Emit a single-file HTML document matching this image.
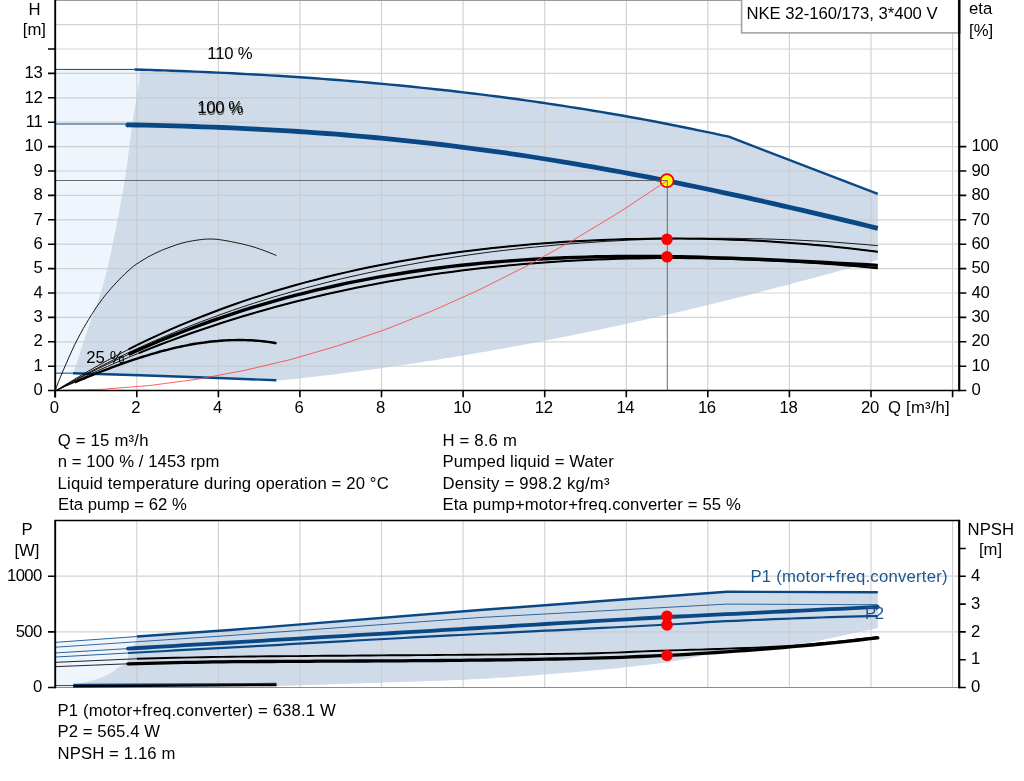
<!DOCTYPE html>
<html><head><meta charset="utf-8"><title>NKE 32-160/173</title>
<style>html,body{margin:0;padding:0;background:#fff;width:1024px;height:781px;overflow:hidden}</style>
</head><body>
<svg width="1024" height="781" viewBox="0 0 1024 781" style="position:absolute;left:0;top:0">
<rect width="1024" height="781" fill="#fff"/>
<polygon points="55.2,69.5 140.5,69.5 140.5,70.0 139.8,75.1 139.2,80.3 138.4,85.4 137.7,90.5 136.8,95.7 136.0,100.8 135.1,105.9 134.2,111.1 133.4,116.2 132.6,121.4 131.9,126.5 131.2,131.6 130.5,136.8 129.9,141.9 129.2,147.0 128.6,152.2 127.9,157.3 127.3,162.4 126.6,167.6 125.8,172.7 125.1,177.8 124.2,183.0 123.4,188.1 122.5,193.3 121.6,198.4 120.6,203.5 119.6,208.7 118.7,213.8 117.7,218.9 116.7,224.1 115.7,229.2 114.6,234.3 113.6,239.5 112.5,244.6 111.5,249.7 110.4,254.9 109.3,260.0 108.2,265.2 106.9,270.3 105.6,275.4 104.3,280.6 102.8,285.7 101.3,290.8 99.7,296.0 97.9,301.1 96.1,306.2 94.2,311.4 92.2,316.5 90.4,321.6 88.6,326.8 86.9,331.9 85.2,337.1 83.4,342.2 81.7,347.3 80.1,352.5 78.5,357.6 76.8,362.7 75.0,367.9 73.0,373.0 73.0,373.2 55.2,373.2" fill="#eef5fd"/>
<polygon points="134.5,69.5 142.0,69.7 149.5,69.9 157.1,70.2 164.6,70.4 172.1,70.7 179.6,71.0 187.2,71.3 194.7,71.6 202.2,71.9 209.7,72.2 217.2,72.6 224.8,72.9 232.3,73.3 239.8,73.7 247.3,74.1 254.9,74.5 262.4,74.9 269.9,75.4 277.4,75.8 284.9,76.3 292.5,76.8 300.0,77.3 307.5,77.8 315.0,78.3 322.6,78.9 330.1,79.5 337.6,80.0 345.1,80.6 352.6,81.3 360.2,81.9 367.7,82.5 375.2,83.2 382.7,83.9 390.3,84.6 397.8,85.3 405.3,86.0 412.8,86.8 420.3,87.6 427.9,88.4 435.4,89.2 442.9,90.0 450.4,90.8 458.0,91.7 465.5,92.6 473.0,93.5 480.5,94.4 488.0,95.4 495.6,96.3 503.1,97.3 510.6,98.3 518.1,99.3 525.7,100.4 533.2,101.4 540.7,102.5 548.2,103.6 555.7,104.7 563.3,105.9 570.8,107.1 578.3,108.2 585.8,109.4 593.4,110.7 600.9,111.9 608.4,113.2 615.9,114.5 623.4,115.8 631.0,117.2 638.5,118.5 646.0,119.9 653.5,121.3 661.1,122.8 668.6,124.2 676.1,125.7 683.6,127.2 691.1,128.7 698.7,130.3 706.2,131.9 713.7,133.4 721.2,135.1 728.8,136.7 877.8,193.8 877.8,260.1 870.2,262.3 862.6,264.4 855.0,266.6 847.3,268.7 839.7,270.8 832.1,272.9 824.5,275.0 816.9,277.0 809.3,279.1 801.7,281.1 794.1,283.1 786.4,285.2 778.8,287.1 771.2,289.1 763.6,291.1 756.0,293.0 748.4,295.0 740.8,296.9 733.2,298.8 725.5,300.7 717.9,302.5 710.3,304.4 702.7,306.2 695.1,308.1 687.5,309.9 679.9,311.7 672.3,313.4 664.6,315.2 657.0,316.9 649.4,318.7 641.8,320.4 634.2,322.1 626.6,323.7 619.0,325.4 611.4,327.0 603.7,328.7 596.1,330.3 588.5,331.9 580.9,333.4 573.3,335.0 565.7,336.5 558.1,338.0 550.5,339.5 542.8,341.0 535.2,342.5 527.6,343.9 520.0,345.4 512.4,346.8 504.8,348.2 497.2,349.6 489.6,350.9 481.9,352.2 474.3,353.6 466.7,354.9 459.1,356.1 451.5,357.4 443.9,358.6 436.3,359.9 428.7,361.1 421.0,362.2 413.4,363.4 405.8,364.6 398.2,365.7 390.6,366.8 383.0,367.9 375.4,368.9 367.8,370.0 360.1,371.0 352.5,372.0 344.9,373.0 337.3,373.9 329.7,374.9 322.1,375.8 314.5,376.7 306.9,377.6 299.2,378.4 291.6,379.2 284.0,380.0 276.4,380.5 276.4,380.2 218.5,378.0 140.0,375.2 73.0,373.2 73.0,373.0 75.0,367.9 76.8,362.7 78.5,357.6 80.1,352.5 81.7,347.3 83.4,342.2 85.2,337.1 86.9,331.9 88.6,326.8 90.4,321.6 92.2,316.5 94.2,311.4 96.1,306.2 97.9,301.1 99.7,296.0 101.3,290.8 102.8,285.7 104.3,280.6 105.6,275.4 106.9,270.3 108.2,265.2 109.3,260.0 110.4,254.9 111.5,249.7 112.5,244.6 113.6,239.5 114.6,234.3 115.7,229.2 116.7,224.1 117.7,218.9 118.7,213.8 119.6,208.7 120.6,203.5 121.6,198.4 122.5,193.3 123.4,188.1 124.2,183.0 125.1,177.8 125.8,172.7 126.6,167.6 127.3,162.4 127.9,157.3 128.6,152.2 129.2,147.0 129.9,141.9 130.5,136.8 131.2,131.6 131.9,126.5 132.6,121.4 133.4,116.2 134.2,111.1 135.1,105.9 136.0,100.8 136.8,95.7 137.7,90.5 138.4,85.4 139.2,80.3 139.8,75.1 140.5,70.0" fill="#cfdbe8"/>
<path d="M136.8 0V390 M218.4 0V390 M299.9 0V390 M381.5 0V390 M463.1 0V390 M544.7 0V390 M626.3 0V390 M707.8 0V390 M789.4 0V390 M871.0 0V390 M952.6 0V390 M56 366.2H959 M56 341.8H959 M56 317.4H959 M56 293.0H959 M56 268.6H959 M56 244.2H959 M56 219.8H959 M56 195.4H959 M56 171.0H959 M56 146.6H959 M56 122.2H959 M56 97.8H959 M56 73.4H959 M56 49.0H959 M56 24.6H959" stroke="#c7c8ca" stroke-width="1.2" fill="none" opacity="0.8"/>
<path d="M55 0.5H960" stroke="#9a9a9a" stroke-width="1"/>
<path d="M56 69.4H134.5" stroke="#094885" stroke-width="1"/>
<polyline points="134.5,69.5 142.0,69.7 149.5,69.9 157.1,70.2 164.6,70.4 172.1,70.7 179.6,71.0 187.2,71.3 194.7,71.6 202.2,71.9 209.7,72.2 217.2,72.6 224.8,72.9 232.3,73.3 239.8,73.7 247.3,74.1 254.9,74.5 262.4,74.9 269.9,75.4 277.4,75.8 284.9,76.3 292.5,76.8 300.0,77.3 307.5,77.8 315.0,78.3 322.6,78.9 330.1,79.5 337.6,80.0 345.1,80.6 352.6,81.3 360.2,81.9 367.7,82.5 375.2,83.2 382.7,83.9 390.3,84.6 397.8,85.3 405.3,86.0 412.8,86.8 420.3,87.6 427.9,88.4 435.4,89.2 442.9,90.0 450.4,90.8 458.0,91.7 465.5,92.6 473.0,93.5 480.5,94.4 488.0,95.4 495.6,96.3 503.1,97.3 510.6,98.3 518.1,99.3 525.7,100.4 533.2,101.4 540.7,102.5 548.2,103.6 555.7,104.7 563.3,105.9 570.8,107.1 578.3,108.2 585.8,109.4 593.4,110.7 600.9,111.9 608.4,113.2 615.9,114.5 623.4,115.8 631.0,117.2 638.5,118.5 646.0,119.9 653.5,121.3 661.1,122.8 668.6,124.2 676.1,125.7 683.6,127.2 691.1,128.7 698.7,130.3 706.2,131.9 713.7,133.4 721.2,135.1 728.8,136.7 877.8,193.8" fill="none" stroke="#094885" stroke-width="2.4" stroke-linejoin="round"/>
<path d="M56 124H127" stroke="#094885" stroke-width="1"/>
<polyline points="127.0,124.9 136.5,125.0 146.0,125.2 155.5,125.4 165.0,125.6 174.5,125.9 184.0,126.2 193.5,126.5 203.0,126.8 212.5,127.1 222.0,127.5 231.5,127.9 241.0,128.3 250.5,128.8 260.1,129.3 269.6,129.8 279.1,130.3 288.6,130.9 298.1,131.5 307.6,132.1 317.1,132.8 326.6,133.5 336.1,134.2 345.6,135.0 355.1,135.8 364.6,136.6 374.1,137.5 383.6,138.4 393.1,139.3 402.6,140.3 412.1,141.3 421.6,142.3 431.1,143.4 440.6,144.5 450.1,145.7 459.6,146.8 469.1,148.1 478.6,149.3 488.1,150.6 497.6,151.9 507.2,153.2 516.7,154.6 526.2,156.0 535.7,157.5 545.2,159.0 554.7,160.5 564.2,162.1 573.7,163.6 583.2,165.3 592.7,166.9 602.2,168.6 611.7,170.3 621.2,172.0 630.7,173.8 640.2,175.6 649.7,177.4 659.2,179.3 668.7,181.2 678.2,183.1 687.7,185.1 697.2,187.0 706.7,189.0 716.2,191.0 725.7,193.1 735.2,195.1 744.7,197.2 754.3,199.3 763.8,201.5 773.3,203.6 782.8,205.8 792.3,208.0 801.8,210.2 811.3,212.4 820.8,214.6 830.3,216.9 839.8,219.2 849.3,221.4 858.8,223.7 868.3,226.0 877.8,228.3" fill="none" stroke="#094885" stroke-width="4.8" />
<circle cx="127.6" cy="125" r="2.3" fill="#094885"/>
<path d="M56 373.2H73" stroke="#094885" stroke-width="1"/>
<polyline points="73.0,373.2 140.0,375.2 218.5,378.0 276.4,380.2" fill="none" stroke="#094885" stroke-width="2.4" />
<circle cx="667" cy="180.7" r="6.5" fill="#ff0" stroke="#e00" stroke-width="1.7"/>
<path d="M56 180.5H667.3V390" stroke="#5a5a5a" stroke-width="0.9" fill="none"/>
<polyline points="55.6,391.0 66.0,384.4 76.4,378.1 86.8,372.0 97.2,366.1 107.6,360.3 118.0,354.8 128.5,349.4 138.9,344.2 149.3,339.2 159.7,334.4 170.1,329.7 180.5,325.2 190.9,320.9 201.3,316.7 211.7,312.7 222.1,308.8 232.5,305.0 242.9,301.4 253.3,297.9 263.8,294.6 274.2,291.3 284.6,288.3 295.0,285.3 305.4,282.4 315.8,279.7 326.2,277.0 336.6,274.5 347.0,272.1 357.4,269.8 367.8,267.6 378.2,265.5 388.6,263.5 399.1,261.5 409.5,259.7 419.9,257.9 430.3,256.3 440.7,254.7 451.1,253.2 461.5,251.8 471.9,250.5 482.3,249.2 492.7,248.1 503.1,247.0 513.5,245.9 523.9,245.0 534.3,244.1 544.8,243.3 555.2,242.5 565.6,241.8 576.0,241.2 586.4,240.7 596.8,240.2 607.2,239.8 617.6,239.4 628.0,239.1 638.4,238.9 648.8,238.7 659.2,238.6 669.6,238.6 680.1,238.6 690.5,238.7 700.9,238.8 711.3,239.1 721.7,239.3 732.1,239.7 742.5,240.1 752.9,240.6 763.3,241.1 773.7,241.7 784.1,242.4 794.5,243.2 804.9,244.0 815.4,244.9 825.8,245.8 836.2,246.9 846.6,248.0 857.0,249.2 867.4,250.5 877.8,251.8" fill="none" stroke="#000" stroke-width="0.9" />
<polyline points="128.5,349.4 138.9,344.2 149.3,339.2 159.7,334.4 170.1,329.7 180.5,325.2 190.9,320.9 201.3,316.7 211.7,312.7 222.1,308.8 232.5,305.0 242.9,301.4 253.3,297.9 263.8,294.6 274.2,291.3 284.6,288.3 295.0,285.3 305.4,282.4 315.8,279.7 326.2,277.0 336.6,274.5 347.0,272.1 357.4,269.8 367.8,267.6 378.2,265.5 388.6,263.5 399.1,261.5 409.5,259.7 419.9,257.9 430.3,256.3 440.7,254.7 451.1,253.2 461.5,251.8 471.9,250.5 482.3,249.2 492.7,248.1 503.1,247.0 513.5,245.9 523.9,245.0 534.3,244.1 544.8,243.3 555.2,242.5 565.6,241.8 576.0,241.2 586.4,240.7 596.8,240.2 607.2,239.8 617.6,239.4 628.0,239.1 638.4,238.9 648.8,238.7 659.2,238.6 669.6,238.6 680.1,238.6 690.5,238.7 700.9,238.8 711.3,239.1 721.7,239.3 732.1,239.7 742.5,240.1 752.9,240.6 763.3,241.1 773.7,241.7 784.1,242.4 794.5,243.2 804.9,244.0 815.4,244.9 825.8,245.8 836.2,246.9 846.6,248.0 857.0,249.2 867.4,250.5 877.8,251.8" fill="none" stroke="#000" stroke-width="2.0" />
<polyline points="55.6,390.9 66.0,385.0 76.4,379.2 86.8,373.5 97.2,368.1 107.6,362.8 118.0,357.6 128.5,352.6 138.9,347.8 149.3,343.1 159.7,338.5 170.1,334.1 180.5,329.8 190.9,325.7 201.3,321.6 211.7,317.8 222.1,314.0 232.5,310.3 242.9,306.8 253.3,303.4 263.8,300.1 274.2,296.9 284.6,293.9 295.0,290.9 305.4,288.0 315.8,285.3 326.2,282.6 336.6,280.0 347.0,277.5 357.4,275.2 367.8,272.9 378.2,270.7 388.6,268.5 399.1,266.5 409.5,264.6 419.9,262.7 430.3,260.9 440.7,259.2 451.1,257.6 461.5,256.0 471.9,254.5 482.3,253.1 492.7,251.7 503.1,250.5 513.5,249.3 523.9,248.1 534.3,247.1 544.8,246.1 555.2,245.1 565.6,244.2 576.0,243.4 586.4,242.7 596.8,242.0 607.2,241.3 617.6,240.8 628.0,240.2 638.4,239.8 648.8,239.4 659.2,239.1 669.6,238.8 680.1,238.6 690.5,238.4 700.9,238.3 711.3,238.3 721.7,238.3 732.1,238.3 742.5,238.5 752.9,238.7 763.3,238.9 773.7,239.2 784.1,239.6 794.5,240.0 804.9,240.5 815.4,241.0 825.8,241.6 836.2,242.3 846.6,243.1 857.0,243.9 867.4,244.7 877.8,245.7" fill="none" stroke="#000" stroke-width="0.9" />
<polyline points="55.6,391.0 66.0,385.3 76.4,379.8 86.8,374.4 97.2,369.2 107.6,364.1 118.0,359.2 128.5,354.4 138.9,349.7 149.3,345.2 159.7,340.8 170.1,336.6 180.5,332.5 190.9,328.5 201.3,324.6 211.7,320.9 222.1,317.3 232.5,313.8 242.9,310.4 253.3,307.2 263.8,304.1 274.2,301.1 284.6,298.2 295.0,295.4 305.4,292.8 315.8,290.2 326.2,287.8 336.6,285.5 347.0,283.2 357.4,281.1 367.8,279.1 378.2,277.2 388.6,275.4 399.1,273.7 409.5,272.0 419.9,270.5 430.3,269.0 440.7,267.7 451.1,266.4 461.5,265.3 471.9,264.2 482.3,263.1 492.7,262.2 503.1,261.4 513.5,260.6 523.9,259.9 534.3,259.2 544.8,258.7 555.2,258.2 565.6,257.7 576.0,257.4 586.4,257.1 596.8,256.8 607.2,256.7 617.6,256.5 628.0,256.5 638.4,256.4 648.8,256.5 659.2,256.5 669.6,256.7 680.1,256.8 690.5,257.0 700.9,257.3 711.3,257.6 721.7,257.9 732.1,258.2 742.5,258.6 752.9,259.0 763.3,259.5 773.7,259.9 784.1,260.4 794.5,260.9 804.9,261.4 815.4,262.0 825.8,262.5 836.2,263.1 846.6,263.6 857.0,264.2 867.4,264.8 877.8,265.4" fill="none" stroke="#000" stroke-width="0.9" />
<polyline points="128.5,354.4 138.9,349.7 149.3,345.2 159.7,340.8 170.1,336.6 180.5,332.5 190.9,328.5 201.3,324.6 211.7,320.9 222.1,317.3 232.5,313.8 242.9,310.4 253.3,307.2 263.8,304.1 274.2,301.1 284.6,298.2 295.0,295.4 305.4,292.8 315.8,290.2 326.2,287.8 336.6,285.5 347.0,283.2 357.4,281.1 367.8,279.1 378.2,277.2 388.6,275.4 399.1,273.7 409.5,272.0 419.9,270.5 430.3,269.0 440.7,267.7 451.1,266.4 461.5,265.3 471.9,264.2 482.3,263.1 492.7,262.2 503.1,261.4 513.5,260.6 523.9,259.9 534.3,259.2 544.8,258.7 555.2,258.2 565.6,257.7 576.0,257.4 586.4,257.1 596.8,256.8 607.2,256.7 617.6,256.5 628.0,256.5 638.4,256.4 648.8,256.5 659.2,256.5 669.6,256.7 680.1,256.8 690.5,257.0 700.9,257.3 711.3,257.6 721.7,257.9 732.1,258.2 742.5,258.6 752.9,259.0 763.3,259.5 773.7,259.9 784.1,260.4 794.5,260.9 804.9,261.4 815.4,262.0 825.8,262.5 836.2,263.1 846.6,263.6 857.0,264.2 867.4,264.8 877.8,265.4" fill="none" stroke="#000" stroke-width="3.4" />
<polyline points="55.6,391.0 66.0,385.8 76.4,380.8 86.8,375.8 97.2,371.0 107.6,366.4 118.0,361.8 128.5,357.4 138.9,353.1 149.3,348.9 159.7,344.8 170.1,340.9 180.5,337.0 190.9,333.3 201.3,329.7 211.7,326.2 222.1,322.8 232.5,319.5 242.9,316.3 253.3,313.2 263.8,310.2 274.2,307.3 284.6,304.5 295.0,301.8 305.4,299.2 315.8,296.7 326.2,294.2 336.6,291.9 347.0,289.7 357.4,287.5 367.8,285.4 378.2,283.5 388.6,281.6 399.1,279.7 409.5,278.0 419.9,276.4 430.3,274.8 440.7,273.3 451.1,271.9 461.5,270.5 471.9,269.3 482.3,268.1 492.7,267.0 503.1,265.9 513.5,264.9 523.9,264.0 534.3,263.2 544.8,262.4 555.2,261.7 565.6,261.1 576.0,260.5 586.4,260.0 596.8,259.5 607.2,259.2 617.6,258.8 628.0,258.6 638.4,258.4 648.8,258.2 659.2,258.1 669.6,258.1 680.1,258.1 690.5,258.2 700.9,258.3 711.3,258.5 721.7,258.7 732.1,259.0 742.5,259.4 752.9,259.7 763.3,260.2 773.7,260.7 784.1,261.2 794.5,261.8 804.9,262.4 815.4,263.1 825.8,263.8 836.2,264.6 846.6,265.4 857.0,266.3 867.4,267.2 877.8,268.2" fill="none" stroke="#000" stroke-width="0.9" />
<polyline points="138.9,353.1 149.3,348.9 159.7,344.8 170.1,340.9 180.5,337.0 190.9,333.3 201.3,329.7 211.7,326.2 222.1,322.8 232.5,319.5 242.9,316.3 253.3,313.2 263.8,310.2 274.2,307.3 284.6,304.5 295.0,301.8 305.4,299.2 315.8,296.7 326.2,294.2 336.6,291.9 347.0,289.7 357.4,287.5 367.8,285.4 378.2,283.5 388.6,281.6 399.1,279.7 409.5,278.0 419.9,276.4 430.3,274.8 440.7,273.3 451.1,271.9 461.5,270.5 471.9,269.3 482.3,268.1 492.7,267.0 503.1,265.9 513.5,264.9 523.9,264.0 534.3,263.2 544.8,262.4 555.2,261.7 565.6,261.1 576.0,260.5 586.4,260.0 596.8,259.5 607.2,259.2 617.6,258.8 628.0,258.6 638.4,258.4 648.8,258.2 659.2,258.1 669.6,258.1 680.1,258.1 690.5,258.2 700.9,258.3 711.3,258.5 721.7,258.7 732.1,259.0 742.5,259.4 752.9,259.7 763.3,260.2 773.7,260.7 784.1,261.2 794.5,261.8 804.9,262.4 815.4,263.1 825.8,263.8 836.2,264.6 846.6,265.4 857.0,266.3 867.4,267.2 877.8,268.2" fill="none" stroke="#000" stroke-width="2.0" />
<polyline points="55.2,390.6 58.0,389.4 60.8,388.2 63.6,387.0 66.4,385.8 69.2,384.6 72.0,383.5 74.8,382.3 77.6,381.1 80.4,379.9 83.2,378.8 86.0,377.6 88.8,376.5 91.6,375.4 94.4,374.2 97.2,373.1 100.0,372.0 102.8,370.9 105.6,369.8 108.4,368.8 111.2,367.7 114.0,366.7 116.8,365.6 119.6,364.6 122.4,363.6 125.2,362.6 128.0,361.6 130.8,360.7 133.6,359.7 136.4,358.8 139.2,357.9 142.0,357.0 144.8,356.1 147.6,355.3 150.4,354.4 153.2,353.6 156.0,352.8 158.8,352.0 161.6,351.2 164.4,350.5 167.2,349.8 170.0,349.1 172.8,348.4 175.6,347.7 178.4,347.1 181.2,346.5 184.0,345.9 186.8,345.4 189.6,344.8 192.4,344.3 195.2,343.8 198.0,343.4 200.8,343.0 203.6,342.6 206.4,342.2 209.2,341.8 212.0,341.5 214.8,341.2 217.6,341.0 220.4,340.7 223.2,340.5 226.0,340.4 228.8,340.2 231.6,340.1 234.4,340.1 237.2,340.0 240.0,340.0 242.8,340.0 245.6,340.1 248.4,340.2 251.2,340.3 254.0,340.5 256.8,340.7 259.6,340.9 262.4,341.2 265.2,341.5 268.0,341.9 270.8,342.3 273.6,342.7 276.4,343.2" fill="none" stroke="#000" stroke-width="0.9" />
<polyline points="74.8,382.3 77.6,381.1 80.4,379.9 83.2,378.8 86.0,377.6 88.8,376.5 91.6,375.4 94.4,374.2 97.2,373.1 100.0,372.0 102.8,370.9 105.6,369.8 108.4,368.8 111.2,367.7 114.0,366.7 116.8,365.6 119.6,364.6 122.4,363.6 125.2,362.6 128.0,361.6 130.8,360.7 133.6,359.7 136.4,358.8 139.2,357.9 142.0,357.0 144.8,356.1 147.6,355.3 150.4,354.4 153.2,353.6 156.0,352.8 158.8,352.0 161.6,351.2 164.4,350.5 167.2,349.8 170.0,349.1 172.8,348.4 175.6,347.7 178.4,347.1 181.2,346.5 184.0,345.9 186.8,345.4 189.6,344.8 192.4,344.3 195.2,343.8 198.0,343.4 200.8,343.0 203.6,342.6 206.4,342.2 209.2,341.8 212.0,341.5 214.8,341.2 217.6,341.0 220.4,340.7 223.2,340.5 226.0,340.4 228.8,340.2 231.6,340.1 234.4,340.1 237.2,340.0 240.0,340.0 242.8,340.0 245.6,340.1 248.4,340.2 251.2,340.3 254.0,340.5 256.8,340.7 259.6,340.9 262.4,341.2 265.2,341.5 268.0,341.9 270.8,342.3 273.6,342.7 276.4,343.2" fill="none" stroke="#000" stroke-width="2.4" />
<polyline points="55.2,390.5 58.0,383.0 60.8,376.1 63.6,369.5 66.4,363.1 69.2,356.7 72.0,350.5 74.8,344.5 77.6,339.0 80.4,333.7 83.2,328.7 86.0,323.9 88.8,319.2 91.6,314.7 94.4,310.3 97.2,306.1 100.0,302.2 102.8,298.4 105.6,294.9 108.4,291.5 111.2,288.2 114.0,285.1 116.8,282.1 119.6,279.2 122.4,276.4 125.2,273.6 128.0,271.0 130.8,268.5 133.6,266.2 136.4,264.2 139.2,262.4 142.0,260.6 144.8,258.9 147.6,257.2 150.4,255.7 153.2,254.3 156.0,252.9 158.8,251.6 161.6,250.4 164.4,249.2 167.2,248.2 170.0,247.1 172.8,246.1 175.6,245.1 178.4,244.2 181.2,243.3 184.0,242.6 186.8,241.9 189.6,241.4 192.4,240.9 195.2,240.4 198.0,240.0 200.8,239.6 203.6,239.3 206.4,239.1 209.2,239.0 212.0,239.0 214.8,239.2 217.6,239.4 220.4,239.8 223.2,240.2 226.0,240.7 228.8,241.2 231.6,241.8 234.4,242.3 237.2,242.9 240.0,243.5 242.8,244.1 245.6,244.8 248.4,245.5 251.2,246.3 254.0,247.1 256.8,248.0 259.6,249.0 262.4,249.9 265.2,251.0 268.0,252.1 270.8,253.2 273.6,254.3 276.4,255.5" fill="none" stroke="#000" stroke-width="0.9" />
<polyline points="55.6,390.5 102.6,389.3 149.7,385.5 196.7,379.3 243.7,370.6 290.8,359.5 337.8,345.8 384.8,329.7 431.8,311.1 478.9,290.0 525.9,266.4 572.9,240.3 620.0,211.8 667.0,180.8" fill="none" stroke="#ff4545" stroke-width="0.85" />
<circle cx="667" cy="239.3" r="5.8" fill="#f00"/>
<circle cx="667" cy="256.8" r="5.8" fill="#f00"/>
<path d="M55.2 0V397.6" stroke="#000" stroke-width="1.9"/>
<path d="M959.2 0V391.3" stroke="#000" stroke-width="2.2"/>
<path d="M48 390.55H966.3" stroke="#000" stroke-width="1.6"/>
<path d="M48 366.2H55.2 M48 341.8H55.2 M48 317.4H55.2 M48 293.0H55.2 M48 268.6H55.2 M48 244.2H55.2 M48 219.8H55.2 M48 195.4H55.2 M48 171.0H55.2 M48 146.6H55.2 M48 122.2H55.2 M48 97.8H55.2 M48 73.4H55.2 M48 49.0H55.2 M959.2 366.2H966.3 M959.2 341.8H966.3 M959.2 317.4H966.3 M959.2 293.0H966.3 M959.2 268.6H966.3 M959.2 244.2H966.3 M959.2 219.8H966.3 M959.2 195.4H966.3 M959.2 171.0H966.3 M959.2 146.6H966.3 M55.2 390.55V397.3 M136.8 390.55V397.3 M218.4 390.55V397.3 M299.9 390.55V397.3 M381.5 390.55V397.3 M463.1 390.55V397.3 M544.7 390.55V397.3 M626.3 390.55V397.3 M707.8 390.55V397.3 M789.4 390.55V397.3 M871.0 390.55V397.3 M952.6 390.55V397.3" stroke="#000" stroke-width="1.6" fill="none"/>
<rect x="741.6" y="-2" width="217" height="34.9" fill="#fff" stroke="#a4a4a4" stroke-width="1.6"/>
<path d="M959.2 0V34" stroke="#000" stroke-width="2.2"/>
<g font-family="'Liberation Sans', Arial, sans-serif" font-size="16.7" fill="#000">
<text x="746.44" y="18.7" textLength="191.15" lengthAdjust="spacing">NKE 32-160/173, 3*400 V</text>
<text x="34.5" y="14.8" text-anchor="middle">H</text>
<text x="34.4" y="34.8" text-anchor="middle">[m]</text>
<text x="969.0" y="14.4">eta</text>
<text x="969.0" y="35.9">[%]</text>
<text x="42.3" y="395.2" text-anchor="end" letter-spacing="-0.4">0</text>
<text x="42.3" y="370.9" text-anchor="end" letter-spacing="-0.4">1</text>
<text x="42.3" y="346.4" text-anchor="end" letter-spacing="-0.4">2</text>
<text x="42.3" y="322.1" text-anchor="end" letter-spacing="-0.4">3</text>
<text x="42.3" y="297.7" text-anchor="end" letter-spacing="-0.4">4</text>
<text x="42.3" y="273.2" text-anchor="end" letter-spacing="-0.4">5</text>
<text x="42.3" y="248.9" text-anchor="end" letter-spacing="-0.4">6</text>
<text x="42.3" y="224.5" text-anchor="end" letter-spacing="-0.4">7</text>
<text x="42.3" y="200.1" text-anchor="end" letter-spacing="-0.4">8</text>
<text x="42.3" y="175.7" text-anchor="end" letter-spacing="-0.4">9</text>
<text x="42.3" y="151.2" text-anchor="end" letter-spacing="-0.4">10</text>
<text x="42.3" y="126.9" text-anchor="end" letter-spacing="-0.4">11</text>
<text x="42.3" y="102.5" text-anchor="end" letter-spacing="-0.4">12</text>
<text x="42.3" y="78.1" text-anchor="end" letter-spacing="-0.4">13</text>
<text x="971.6" y="395.2" letter-spacing="-0.4">0</text>
<text x="971.6" y="370.9" letter-spacing="-0.4">10</text>
<text x="971.6" y="346.4" letter-spacing="-0.4">20</text>
<text x="971.6" y="322.1" letter-spacing="-0.4">30</text>
<text x="971.6" y="297.7" letter-spacing="-0.4">40</text>
<text x="971.6" y="273.2" letter-spacing="-0.4">50</text>
<text x="971.6" y="248.9" letter-spacing="-0.4">60</text>
<text x="971.6" y="224.5" letter-spacing="-0.4">70</text>
<text x="971.6" y="200.1" letter-spacing="-0.4">80</text>
<text x="971.6" y="175.7" letter-spacing="-0.4">90</text>
<text x="971.6" y="151.2" letter-spacing="-0.4">100</text>
<text x="54.2" y="413.3" text-anchor="middle" letter-spacing="-0.4">0</text>
<text x="135.8" y="413.3" text-anchor="middle" letter-spacing="-0.4">2</text>
<text x="217.4" y="413.3" text-anchor="middle" letter-spacing="-0.4">4</text>
<text x="298.9" y="413.3" text-anchor="middle" letter-spacing="-0.4">6</text>
<text x="380.5" y="413.3" text-anchor="middle" letter-spacing="-0.4">8</text>
<text x="462.1" y="413.3" text-anchor="middle" letter-spacing="-0.4">10</text>
<text x="543.7" y="413.3" text-anchor="middle" letter-spacing="-0.4">12</text>
<text x="625.3" y="413.3" text-anchor="middle" letter-spacing="-0.4">14</text>
<text x="706.8" y="413.3" text-anchor="middle" letter-spacing="-0.4">16</text>
<text x="788.4" y="413.3" text-anchor="middle" letter-spacing="-0.4">18</text>
<text x="870.0" y="413.3" text-anchor="middle" letter-spacing="-0.4">20</text>
<text x="888.12" y="413.3" textLength="61.59" lengthAdjust="spacing">Q [m³/h]</text>
<text x="207.34" y="59.0" textLength="45.37" lengthAdjust="spacing">110 %</text>
<text x="197.80" y="114.5" textLength="46.00" lengthAdjust="spacing" fill="#555">100 %</text>
<text x="197.34" y="113.2" textLength="45.82" lengthAdjust="spacing">100 %</text>
<text x="86.25" y="362.5" textLength="38.30" lengthAdjust="spacing">25 %</text>
<text x="57.64" y="445.5" textLength="90.82" lengthAdjust="spacing">Q = 15 m³/h</text>
<text x="57.74" y="466.8" textLength="161.57" lengthAdjust="spacing">n = 100 % / 1453 rpm</text>
<text x="57.62" y="488.5" textLength="331.10" lengthAdjust="spacing">Liquid temperature during operation = 20 °C</text>
<text x="58.04" y="509.6" textLength="128.74" lengthAdjust="spacing">Eta pump = 62 %</text>
<text x="442.38" y="445.5" textLength="74.45" lengthAdjust="spacing">H = 8.6 m</text>
<text x="442.38" y="466.8" textLength="171.37" lengthAdjust="spacing">Pumped liquid = Water</text>
<text x="442.38" y="488.5" textLength="167.08" lengthAdjust="spacing">Density = 998.2 kg/m³</text>
<text x="442.38" y="509.6" textLength="298.49" lengthAdjust="spacing">Eta pump+motor+freq.converter = 55 %</text>
<text x="57.44" y="715.5" textLength="278.37" lengthAdjust="spacing">P1 (motor+freq.converter) = 638.1 W</text>
<text x="57.44" y="737.3" textLength="102.56" lengthAdjust="spacing">P2 = 565.4 W</text>
<text x="57.44" y="758.6" textLength="117.95" lengthAdjust="spacing">NPSH = 1.16 m</text>
</g>
<polygon points="55.2,642.3 137.0,636.5 136.0,642.0 131.5,649.0 128.3,655.0 127.5,663.5 118.9,667.0 111.3,672.7 101.0,677.8 88.4,681.6 73.2,685.0 55.2,686.5" fill="#eef5fd"/>
<polygon points="137.0,636.5 230.0,630.0 480.0,610.0 726.8,591.8 877.8,592.2 877.8,628.0 791.0,646.7 707.0,654.5 701.6,655.7 696.1,656.9 690.7,658.0 685.2,659.1 679.8,660.1 674.3,661.1 668.9,661.9 663.4,662.7 658.0,663.5 652.5,664.2 647.1,664.9 641.6,665.5 636.2,666.1 630.7,666.8 625.3,667.3 619.8,667.9 614.4,668.5 608.9,669.0 603.5,669.5 598.0,670.0 592.6,670.5 587.1,671.0 581.7,671.5 576.2,671.9 570.8,672.4 565.3,672.8 559.9,673.3 554.4,673.7 549.0,674.2 543.5,674.6 538.1,675.0 532.6,675.5 527.2,675.9 521.7,676.3 516.3,676.7 510.8,677.0 505.4,677.4 499.9,677.8 494.5,678.1 489.0,678.4 483.6,678.7 478.1,679.0 472.7,679.3 467.2,679.6 461.8,679.9 456.3,680.1 450.9,680.3 445.4,680.5 440.0,680.7 434.5,680.9 429.1,681.1 423.6,681.3 418.2,681.5 412.7,681.7 407.3,681.8 401.8,682.0 396.4,682.2 390.9,682.3 385.5,682.5 380.0,682.7 374.6,682.9 369.1,683.1 363.7,683.2 358.2,683.4 352.8,683.6 347.3,683.8 341.9,684.0 336.4,684.1 331.0,684.3 325.5,684.5 320.1,684.7 314.6,684.8 309.2,685.0 303.7,685.2 298.3,685.3 292.8,685.5 287.4,685.7 281.9,685.8 276.5,686.0 73.2,686.5 73.2,685.0 88.4,681.6 101.0,677.8 111.3,672.7 118.9,667.0 127.5,663.5 128.3,655.0 131.5,649.0 136.0,642.0 137.0,636.5" fill="#cfdbe8"/>
<path d="M136.8 521V687 M218.4 521V687 M299.9 521V687 M381.5 521V687 M463.1 521V687 M544.7 521V687 M626.3 521V687 M707.8 521V687 M789.4 521V687 M871.0 521V687 M952.6 521V687 M56 631.9H959 M56 576.2H959" stroke="#c7c8ca" stroke-width="1.2" fill="none" opacity="0.8"/>
<path d="M55 687.5H960" stroke="#8c8c8c" stroke-width="1.1"/>
<path d="M56 642.3L137 636.5M56 652.9L128 648.6M56 657L128 653" stroke="#094885" stroke-width="0.85" fill="none"/>
<path d="M56 662.3L137 658.75M56 666.6L128 663.8" stroke="#000" stroke-width="0.85" fill="none"/>
<polyline points="137.0,636.5 230.0,630.0 480.0,610.0 726.8,591.8 877.8,592.2" fill="none" stroke="#094885" stroke-width="2.4" stroke-linejoin="round"/>
<polyline points="55.6,647.2 230.0,635.5 480.0,617.5 727.0,604.1 877.8,604.7" fill="none" stroke="#094885" stroke-width="0.8" />
<polyline points="128.0,648.6 137.5,648.0 147.0,647.5 156.5,646.9 166.0,646.4 175.5,645.8 184.9,645.2 194.4,644.7 203.9,644.1 213.4,643.6 222.9,643.0 232.4,642.5 241.9,641.9 251.4,641.3 260.9,640.8 270.4,640.2 279.9,639.7 289.3,639.1 298.8,638.6 308.3,638.0 317.8,637.4 327.3,636.9 336.8,636.3 346.3,635.8 355.8,635.2 365.3,634.7 374.8,634.1 384.3,633.6 393.8,633.0 403.2,632.4 412.7,631.9 422.2,631.3 431.7,630.8 441.2,630.2 450.7,629.7 460.2,629.1 469.7,628.5 479.2,628.0 488.7,627.4 498.2,626.8 507.6,626.3 517.1,625.7 526.6,625.1 536.1,624.6 545.6,624.0 555.1,623.4 564.6,622.9 574.1,622.3 583.6,621.8 593.1,621.2 602.6,620.7 612.0,620.1 621.5,619.6 631.0,619.1 640.5,618.5 650.0,618.0 659.5,617.5 669.0,617.0 678.5,616.5 688.0,616.1 697.5,615.6 707.0,615.2 716.5,614.7 725.9,614.2 735.4,613.8 744.9,613.3 754.4,612.9 763.9,612.4 773.4,611.9 782.9,611.5 792.4,611.0 801.9,610.6 811.4,610.1 820.9,609.7 830.3,609.2 839.8,608.8 849.3,608.3 858.8,607.9 868.3,607.4 877.8,607.0" fill="none" stroke="#094885" stroke-width="3.8" stroke-linecap="round"/>
<polyline points="128.0,653.0 137.5,652.5 147.0,652.0 156.5,651.5 166.0,651.0 175.5,650.4 184.9,649.9 194.4,649.4 203.9,648.9 213.4,648.4 222.9,647.9 232.4,647.4 241.9,646.9 251.4,646.3 260.9,645.8 270.4,645.3 279.9,644.8 289.3,644.2 298.8,643.7 308.3,643.2 317.8,642.7 327.3,642.1 336.8,641.6 346.3,641.1 355.8,640.5 365.3,640.0 374.8,639.5 384.3,639.0 393.8,638.5 403.2,638.0 412.7,637.4 422.2,636.9 431.7,636.4 441.2,635.9 450.7,635.4 460.2,635.0 469.7,634.5 479.2,634.0 488.7,633.5 498.2,633.1 507.6,632.6 517.1,632.1 526.6,631.7 536.1,631.2 545.6,630.7 555.1,630.3 564.6,629.8 574.1,629.4 583.6,628.9 593.1,628.4 602.6,627.9 612.0,627.5 621.5,627.0 631.0,626.5 640.5,626.0 650.0,625.5 659.5,625.0 669.0,624.5 678.5,624.0 688.0,623.4 697.5,622.8 707.0,622.2 716.5,621.7 725.9,621.2 735.4,620.8 744.9,620.4 754.4,620.0 763.9,619.6 773.4,619.2 782.9,618.8 792.4,618.5 801.9,618.1 811.4,617.8 820.9,617.5 830.3,617.2 839.8,616.9 849.3,616.6 858.8,616.4 868.3,616.2 877.8,616.0" fill="none" stroke="#094885" stroke-width="2.2" />
<polyline points="137.0,658.8 146.4,658.5 155.8,658.3 165.1,658.0 174.5,657.8 183.9,657.6 193.3,657.4 202.6,657.2 212.0,657.0 221.4,656.9 230.8,656.7 240.1,656.6 249.5,656.5 258.9,656.4 268.3,656.3 277.7,656.2 287.0,656.1 296.4,656.1 305.8,656.0 315.2,655.9 324.5,655.8 333.9,655.8 343.3,655.7 352.7,655.6 362.1,655.5 371.4,655.5 380.8,655.4 390.2,655.3 399.6,655.3 408.9,655.2 418.3,655.1 427.7,655.1 437.1,655.0 446.4,654.9 455.8,654.9 465.2,654.8 474.6,654.7 484.0,654.6 493.3,654.6 502.7,654.5 512.1,654.4 521.5,654.3 530.8,654.2 540.2,654.1 549.6,654.0 559.0,653.9 568.4,653.8 577.7,653.6 587.1,653.5 596.5,653.2 605.9,652.9 615.2,652.6 624.6,652.2 634.0,651.8 643.4,651.4 652.7,651.0 662.1,650.7 671.5,650.4 680.9,650.1 690.3,649.8 699.6,649.6 709.0,649.3 718.4,649.0 727.8,648.6 737.1,648.3 746.5,648.0 755.9,647.6 765.3,647.2 774.7,646.7 784.0,646.2 793.4,645.6 802.8,644.9 812.2,644.1 821.5,643.3 830.9,642.4 840.3,641.4 849.7,640.4 859.0,639.3 868.4,638.2 877.8,637.0" fill="none" stroke="#000" stroke-width="1.9" />
<polyline points="128.0,663.8 137.5,663.6 147.0,663.3 156.5,663.1 166.0,662.9 175.5,662.6 184.9,662.4 194.4,662.3 203.9,662.1 213.4,661.9 222.9,661.8 232.4,661.7 241.9,661.6 251.4,661.6 260.9,661.5 270.4,661.5 279.9,661.4 289.3,661.3 298.8,661.3 308.3,661.3 317.8,661.2 327.3,661.2 336.8,661.1 346.3,661.1 355.8,661.0 365.3,661.0 374.8,660.9 384.3,660.9 393.8,660.8 403.2,660.8 412.7,660.7 422.2,660.6 431.7,660.6 441.2,660.5 450.7,660.4 460.2,660.3 469.7,660.2 479.2,660.1 488.7,660.0 498.2,659.9 507.6,659.8 517.1,659.6 526.6,659.5 536.1,659.3 545.6,659.2 555.1,659.0 564.6,658.8 574.1,658.6 583.6,658.4 593.1,658.2 602.6,657.9 612.0,657.6 621.5,657.3 631.0,656.9 640.5,656.5 650.0,656.2 659.5,655.7 669.0,655.3 678.5,654.8 688.0,654.3 697.5,653.7 707.0,653.1 716.5,652.5 725.9,651.8 735.4,651.2 744.9,650.5 754.4,649.8 763.9,649.1 773.4,648.3 782.9,647.6 792.4,646.7 801.9,645.9 811.4,645.0 820.9,644.0 830.3,643.1 839.8,642.1 849.3,641.1 858.8,640.0 868.3,638.9 877.8,637.8" fill="none" stroke="#000" stroke-width="3.3" stroke-linecap="round"/>
<path d="M56 685.6H73" stroke="#094885" stroke-width="1"/>
<path d="M73.2 684.8L276.5 683.8" stroke="#094885" stroke-width="2"/>
<path d="M73.2 686.2L276.5 685" stroke="#000" stroke-width="2.4"/>
<circle cx="667" cy="616.3" r="5.8" fill="#f00"/>
<circle cx="667" cy="625" r="5.8" fill="#f00"/>
<circle cx="667" cy="655.5" r="5.8" fill="#f00"/>
<path d="M54.3 520.5H960" stroke="#000" stroke-width="1.4"/>
<path d="M55.2 520.5V688.3" stroke="#000" stroke-width="1.9"/>
<path d="M959.2 519.9V688.3" stroke="#000" stroke-width="2.2"/>
<path d="M48 687.5H55.2 M48 631.9H55.2 M48 576.2H55.2 M959.2 687.5H965.8 M959.2 659.7H965.8 M959.2 631.9H965.8 M959.2 604.1H965.8 M959.2 576.3H965.8 M959.2 548.5H965.8" stroke="#000" stroke-width="1.6" fill="none"/>
<g font-family="'Liberation Sans', Arial, sans-serif" font-size="16.7" fill="#000">
<text x="27" y="535" text-anchor="middle">P</text>
<text x="27" y="555.5" text-anchor="middle">[W]</text>
<text x="990.8" y="535.2" text-anchor="middle">NPSH</text>
<text x="990.5" y="554.8" text-anchor="middle">[m]</text>
<text x="41.6" y="692.2" text-anchor="end" letter-spacing="-0.65">0</text>
<text x="41.6" y="636.6" text-anchor="end" letter-spacing="-0.65">500</text>
<text x="41.6" y="581.0" text-anchor="end" letter-spacing="-0.65">1000</text>
<text x="971.0" y="692.2">0</text>
<text x="971.0" y="664.4">1</text>
<text x="971.0" y="636.6">2</text>
<text x="971.0" y="608.8">3</text>
<text x="971.0" y="581.0">4</text>
<text x="750.38" y="581.7" textLength="197.22" lengthAdjust="spacing" fill="#1f568e">P1 (motor+freq.converter)</text>
<text x="864.92" y="619.0" textLength="19.03" lengthAdjust="spacing" fill="#1f568e">P2</text>
</g>
</svg>
</body></html>
